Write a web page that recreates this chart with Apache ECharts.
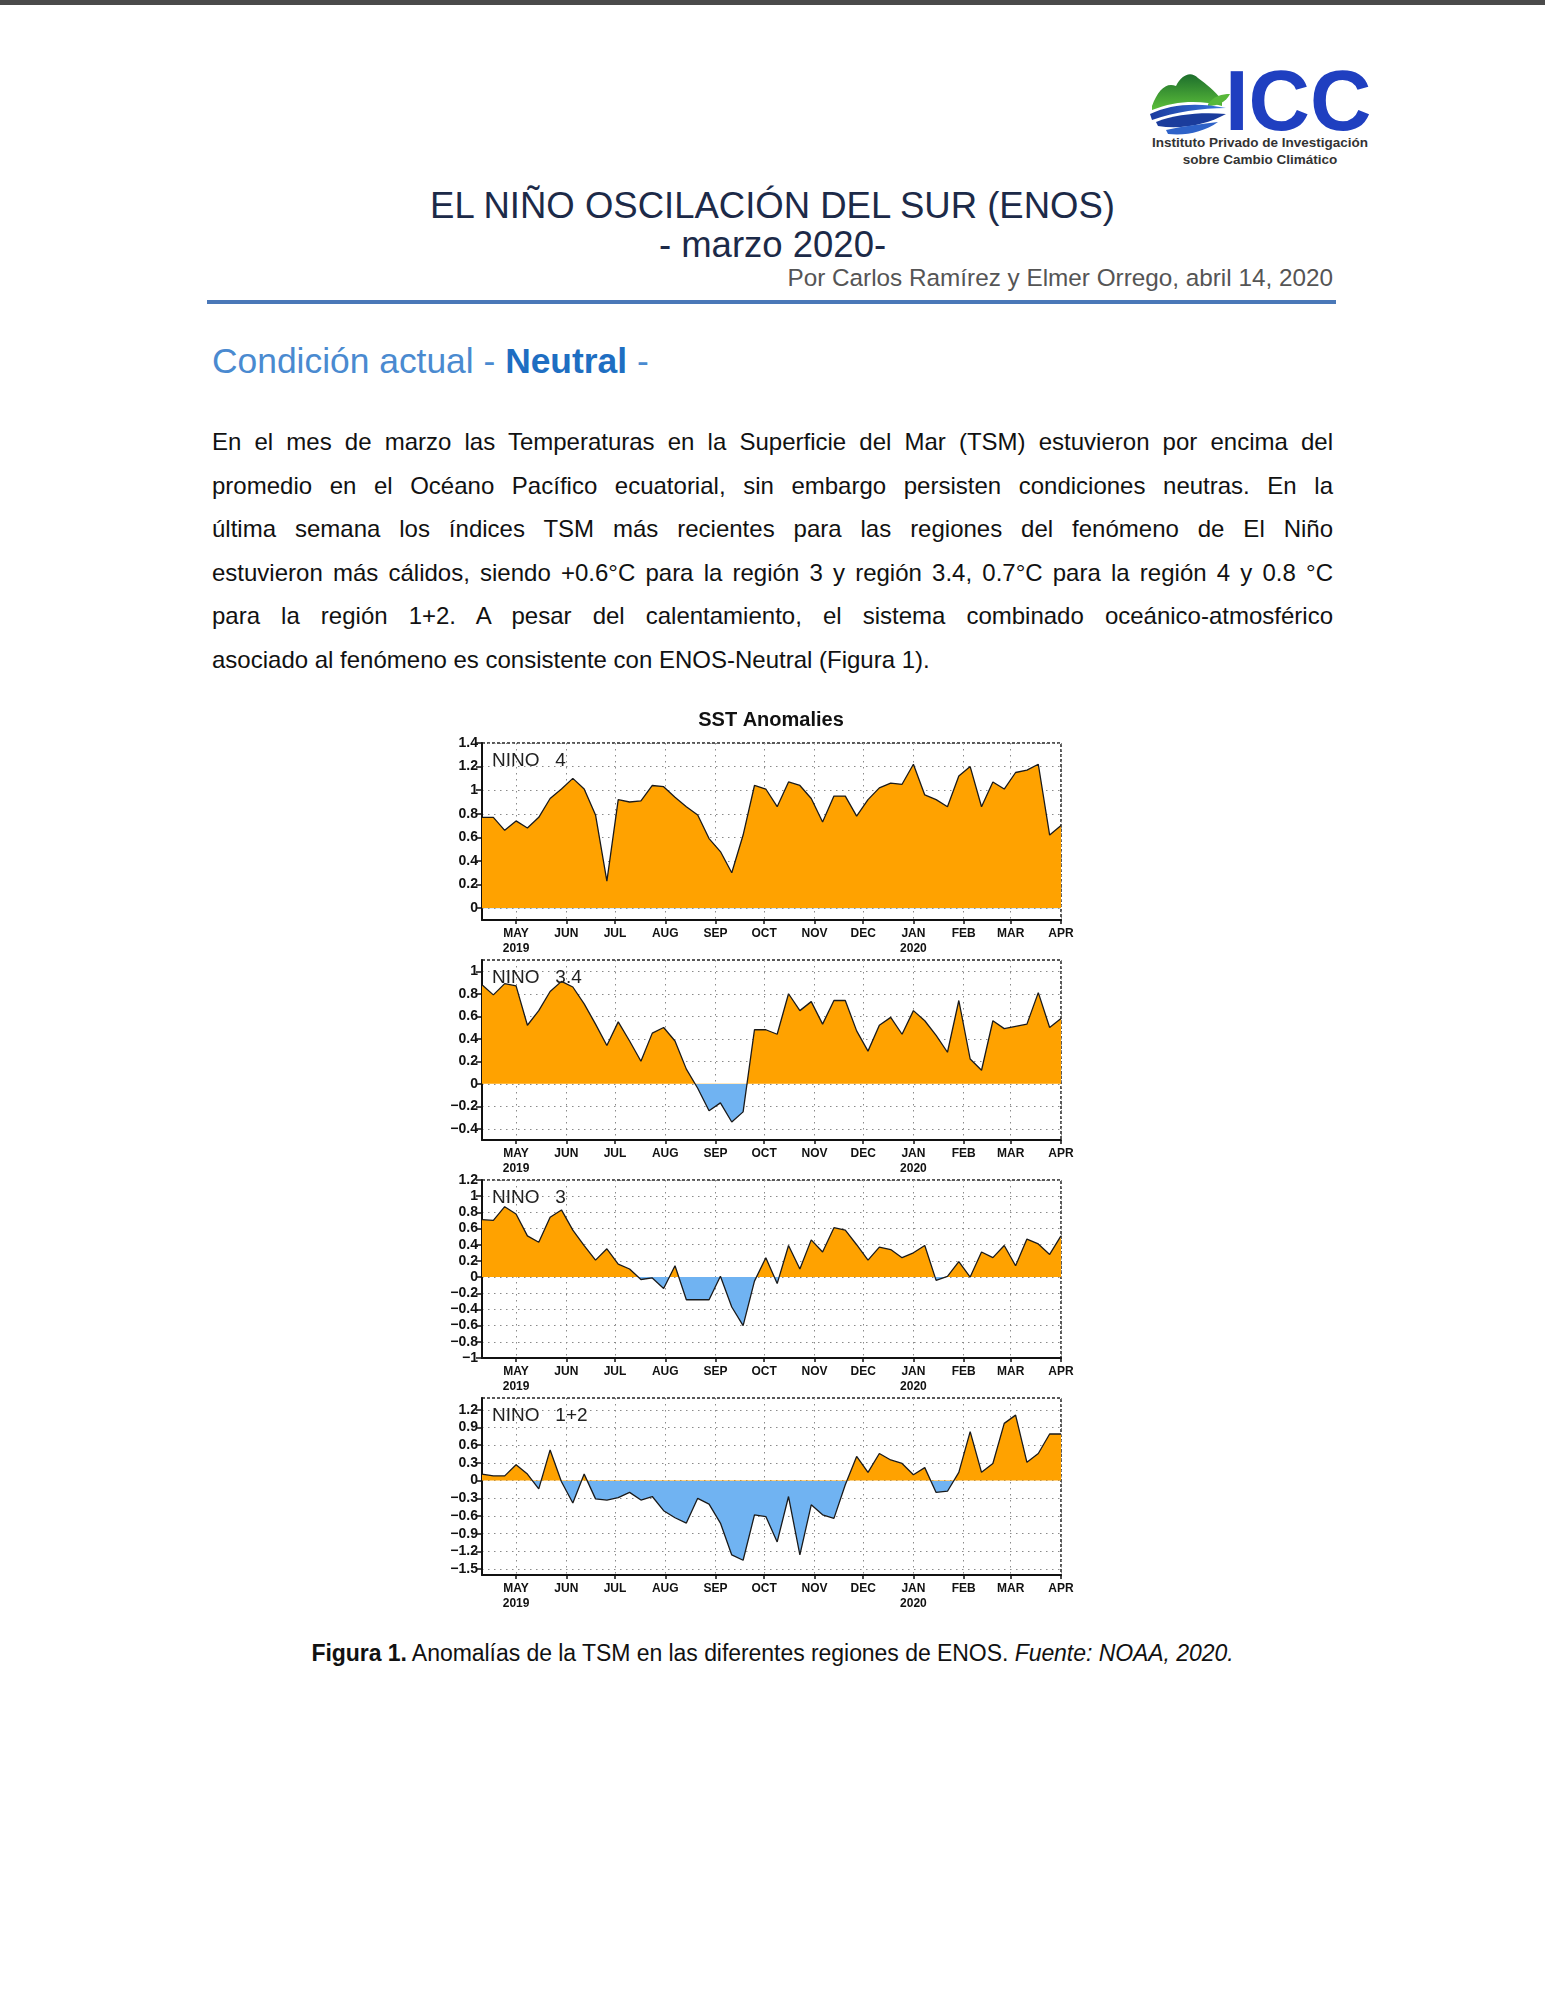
<!DOCTYPE html>
<html>
<head>
<meta charset="utf-8">
<script src="https://cdn.jsdelivr.net/npm/echarts@6/dist/echarts.min.js"></script>
<style>
  html,body{margin:0;padding:0;background:#fff;}
  body{width:1545px;height:2000px;position:relative;overflow:hidden;font-family:"Liberation Sans",Arial,sans-serif;color:#111;}
  .abs{position:absolute;white-space:nowrap;line-height:1;}
  #topbar{position:absolute;left:0;top:0;width:1545px;height:5px;background:#4a4a4a;}
  #t1{left:0;width:1545px;text-align:center;top:190px;font-size:36.5px;line-height:0.9;color:#1c2a48;}
  #t1b{left:0;width:1545px;text-align:center;top:229px;font-size:36.5px;line-height:0.9;color:#1c2a48;}
  #by{right:212px;top:267px;font-size:24.3px;line-height:0.9;color:#555;}
  #rule{position:absolute;left:207px;top:300px;width:1129px;height:4px;background:#4a78b8;}
  #head{left:212px;top:344px;font-size:35.4px;color:#4a8ad0;}
  #head b{color:#1e6ec2;}
  #para{position:absolute;left:212px;top:420px;width:1121px;font-size:24px;line-height:43.6px;color:#111;}
  #para div{text-align:justify;text-align-last:justify;white-space:nowrap;}
  #para div.last{text-align:left;text-align-last:left;}
  #cap{left:0;width:1545px;text-align:center;top:1642px;font-size:23px;letter-spacing:-0.05px;color:#111;}
  #chart{position:absolute;left:421px;top:690px;width:700px;height:940px;}
  #logo{position:absolute;left:1146px;top:60px;width:230px;height:110px;}
  #icc{left:1225px;top:69px;font-size:85px;line-height:0.75;font-weight:bold;color:#1f3fc0;}
  #inst{position:absolute;left:1150px;top:134px;width:220px;text-align:center;font-size:13.5px;line-height:17px;font-weight:bold;color:#333;white-space:nowrap;}
</style>
</head>
<body>
<div id="topbar"></div>

<svg id="logo" viewBox="0 0 230 110" xmlns="http://www.w3.org/2000/svg">
  <defs>
    <linearGradient id="gm" x1="0" y1="0" x2="0" y2="1">
      <stop offset="0" stop-color="#1d6e2c"/>
      <stop offset="1" stop-color="#5cbf3a"/>
    </linearGradient>
    <linearGradient id="bw" x1="0" y1="0" x2="1" y2="0">
      <stop offset="0" stop-color="#1a3a9e"/>
      <stop offset="1" stop-color="#3a78e0"/>
    </linearGradient>
  </defs>
  <path d="M6 46 C12 30 20 22 30 26 C35 16 44 10 52 18 C60 24 68 30 76 40 L76 46 C56 40 30 40 6 50 Z" fill="url(#gm)"/>
  <path d="M62 44 C68 36 76 34 84 34 C80 42 72 46 62 46 Z" fill="#58b83a"/>
  <path d="M4 54 C24 44 52 42 80 48 C56 48 28 52 6 60 Z" fill="url(#bw)"/>
  <path d="M10 62 C30 54 56 52 80 54 C62 64 36 70 12 66 Z" fill="#1b3c9c"/>
  <path d="M20 70 C38 66 56 64 72 62 C58 72 40 76 22 74 Z" fill="#2e62c8"/>
</svg>
<div class="abs" id="icc">ICC</div>
<div id="inst">Instituto Privado de Investigación<br>sobre Cambio Climático</div>

<div class="abs" id="t1">EL NIÑO OSCILACIÓN DEL SUR (ENOS)</div>
<div class="abs" id="t1b">- marzo 2020-</div>
<div class="abs" id="by">Por Carlos Ramírez y Elmer Orrego, abril 14, 2020</div>
<div id="rule"></div>
<div class="abs" id="head">Condición actual - <b>Neutral</b> -</div>

<div id="para">
  <div>En el mes de marzo las Temperaturas en la Superficie del Mar (TSM) estuvieron por encima del</div>
  <div>promedio en el Océano Pacífico ecuatorial, sin embargo persisten condiciones neutras. En la</div>
  <div>última semana los índices TSM más recientes para las regiones del fenómeno de El Niño</div>
  <div>estuvieron más cálidos, siendo +0.6°C para la región 3 y región 3.4, 0.7°C para la región 4 y 0.8 °C</div>
  <div>para la región 1+2. A pesar del calentamiento, el sistema combinado oceánico-atmosférico</div>
  <div class="last">asociado al fenómeno es consistente con ENOS-Neutral (Figura 1).</div>
</div>

<div id="chart"></div>

<div class="abs" id="cap"><b>Figura 1.</b> Anomalías de la TSM en las diferentes regiones de ENOS. <i>Fuente: NOAA, 2020.</i></div>

<script>
// ---------------- DATA ----------------
const weeks = ["2019-04-10","2019-04-17","2019-04-24","2019-05-01","2019-05-08","2019-05-15","2019-05-22","2019-05-29",
  "2019-06-05","2019-06-12","2019-06-19","2019-06-26","2019-07-03","2019-07-10","2019-07-17","2019-07-24","2019-07-31",
  "2019-08-07","2019-08-14","2019-08-21","2019-08-28","2019-09-04","2019-09-11","2019-09-18","2019-09-25",
  "2019-10-02","2019-10-09","2019-10-16","2019-10-23","2019-10-30","2019-11-06","2019-11-13","2019-11-20","2019-11-27",
  "2019-12-04","2019-12-11","2019-12-18","2019-12-25","2020-01-01","2020-01-08","2020-01-15","2020-01-22","2020-01-29",
  "2020-02-05","2020-02-12","2020-02-19","2020-02-26","2020-03-04","2020-03-11","2020-03-18","2020-03-25","2020-04-01"];

const monthTicks = ["2019-05-01","2019-06-01","2019-07-01","2019-08-01","2019-09-01","2019-10-01","2019-11-01",
  "2019-12-01","2020-01-01","2020-02-01","2020-03-01","2020-04-01"];
const monthLabels = ["MAY\n2019","JUN","JUL","AUG","SEP","OCT","NOV","DEC","JAN\n2020","FEB","MAR","APR"];

const nino4 = [0.77,0.77,0.66,0.74,0.68,0.77,0.93,1.01,1.10,1.01,0.79,0.23,0.92,0.90,0.91,1.04,1.03,0.94,0.86,0.79,
  0.59,0.48,0.30,0.62,1.04,1.01,0.86,1.07,1.04,0.93,0.73,0.95,0.95,0.78,0.92,1.02,1.06,1.05,1.22,0.96,
  0.92,0.86,1.12,1.20,0.86,1.07,1.01,1.15,1.17,1.22,0.62,0.70];
const nino34 = [0.88,0.79,0.89,0.87,0.52,0.65,0.82,0.91,0.86,0.71,0.53,0.34,0.55,0.38,0.20,0.45,0.50,0.38,0.13,-0.04,
  -0.24,-0.17,-0.34,-0.25,0.48,0.48,0.44,0.80,0.65,0.73,0.53,0.74,0.74,0.47,0.29,0.52,0.59,0.44,0.65,0.56,
  0.43,0.28,0.74,0.22,0.12,0.56,0.49,0.51,0.53,0.81,0.50,0.58];
const nino3 = [0.71,0.70,0.87,0.78,0.51,0.43,0.74,0.83,0.58,0.39,0.21,0.35,0.16,0.10,-0.03,-0.01,-0.14,0.14,-0.28,-0.28,
  -0.28,0.01,-0.37,-0.60,-0.05,0.24,-0.08,0.39,0.10,0.46,0.31,0.61,0.58,0.40,0.21,0.37,0.34,0.24,0.30,0.39,
  -0.04,0.01,0.19,0.00,0.31,0.24,0.39,0.14,0.47,0.41,0.28,0.51];
const nino12 = [0.11,0.08,0.08,0.27,0.11,-0.14,0.52,-0.02,-0.38,0.11,-0.31,-0.33,-0.29,-0.20,-0.33,-0.27,-0.51,-0.63,-0.72,-0.30,
  -0.40,-0.72,-1.26,-1.35,-0.58,-0.61,-1.04,-0.27,-1.26,-0.41,-0.58,-0.64,-0.07,0.41,0.14,0.46,0.35,0.29,0.10,0.22,
  -0.20,-0.18,0.14,0.83,0.14,0.29,0.97,1.11,0.31,0.46,0.79,0.79];

const ticks4  = [0,0.2,0.4,0.6,0.8,1,1.2,1.4];
const ticks34 = [-0.4,-0.2,0,0.2,0.4,0.6,0.8,1];
const ticks3  = [-1,-0.8,-0.6,-0.4,-0.2,0,0.2,0.4,0.6,0.8,1,1.2];
const ticks12 = [-1.5,-1.2,-0.9,-0.6,-0.3,0,0.3,0.6,0.9,1.2];

const panelNames = ["NINO   4","NINO   3.4","NINO   3","NINO   1+2"];
const panelRanges = [[-0.1,1.4],[-0.5,1.1],[-1,1.2],[-1.6,1.4]];

// ---------------- CHART ----------------
function ts(s){ const p = s.split('-'); return Date.UTC(+p[0], +p[1]-1, +p[2]); }
const monthTs = monthTicks.map(ts);
const labelMap = {}; monthTs.forEach((t,i)=>{ labelMap[t] = monthLabels[i]; });

const ORANGE = '#FFA200', BLUE = '#70B3F2';
const FONT_N = '"Liberation Sans Narrow","Liberation Sans",Arial,sans-serif';
const tops = [53, 270, 490, 708];
const heights = [177, 180, 178, 177];
const series = [nino4, nino34, nino3, nino12];
const yTicks = [ticks4, ticks34, ticks3, ticks12];

const gridLine = {show:true, lineStyle:{color:'#8a8a8a', width:1, type:[1.5,4.5]}};

const option = {
  animation:false,
  backgroundColor:'#fff',
  title: [{text:'SST Anomalies', left:'center', top:20, padding:0,
           textStyle:{fontSize:20, fontWeight:'bold', color:'#111', fontFamily:'"Liberation Sans",Arial,sans-serif'}}]
    .concat(panelNames.map((n,i)=>({text:n, left:71, top:tops[i]+8, padding:0,
           textStyle:{fontSize:19, fontWeight:'normal', color:'#222', fontFamily:'"Liberation Sans",Arial,sans-serif'}}))),
  grid: tops.map((t,i)=>({left:61, right:60, top:t, height:heights[i], show:true,
           borderColor:'#222', borderWidth:1.5, borderType:[3,2], backgroundColor:'#fff'})),
  xAxis: tops.map((t,i)=>({
    type:'value', gridIndex:i, min:ts(weeks[0]), max:ts(weeks[weeks.length-1]),
    axisLine:{show:true, onZero:false, lineStyle:{color:'#111', width:2}},
    axisTick:{show:true, customValues:monthTs, length:4, lineStyle:{color:'#111', width:1.5}},
    axisLabel:{show:true, customValues:monthTs, margin:6, fontSize:12, fontWeight:'bold', color:'#111',
               fontFamily:FONT_N, lineHeight:15, showMinLabel:true, showMaxLabel:true,
               formatter:(v)=>labelMap[v] || ''},
    splitLine:gridLine
  })),
  yAxis: tops.map((t,i)=>({
    type:'value', gridIndex:i, min:panelRanges[i][0], max:panelRanges[i][1],
    axisLine:{show:true, lineStyle:{color:'#111', width:2}},
    axisTick:{show:true, customValues:yTicks[i], length:6, lineStyle:{color:'#111', width:1.5}},
    axisLabel:{show:true, customValues:yTicks[i], margin:4, fontSize:14, fontWeight:'bold', color:'#111',
               fontFamily:FONT_N, formatter:(v)=>String(Math.round(v*10)/10).replace('-','\u2212')},
    splitLine:gridLine
  })),
  visualMap: [{type:'piecewise', show:false, dimension:1, seriesIndex:[0,1,2,3],
               pieces:[{gte:-5, lt:0, color:BLUE},{gte:0, lte:5, color:ORANGE}]}],
  series: series.map((vals,i)=>({
    type:'line', xAxisIndex:i, yAxisIndex:i, showSymbol:false, symbol:'none', smooth:false,
    data: vals.map((v,j)=>[ts(weeks[j]), v]),
    lineStyle:{color:'#1a1a1a', width:1.3},
    areaStyle:{opacity:1}
  }))
};

const chart = echarts.init(document.getElementById('chart'), null, {renderer:'canvas'});
chart.setOption(option);
</script>
</body>
</html>
